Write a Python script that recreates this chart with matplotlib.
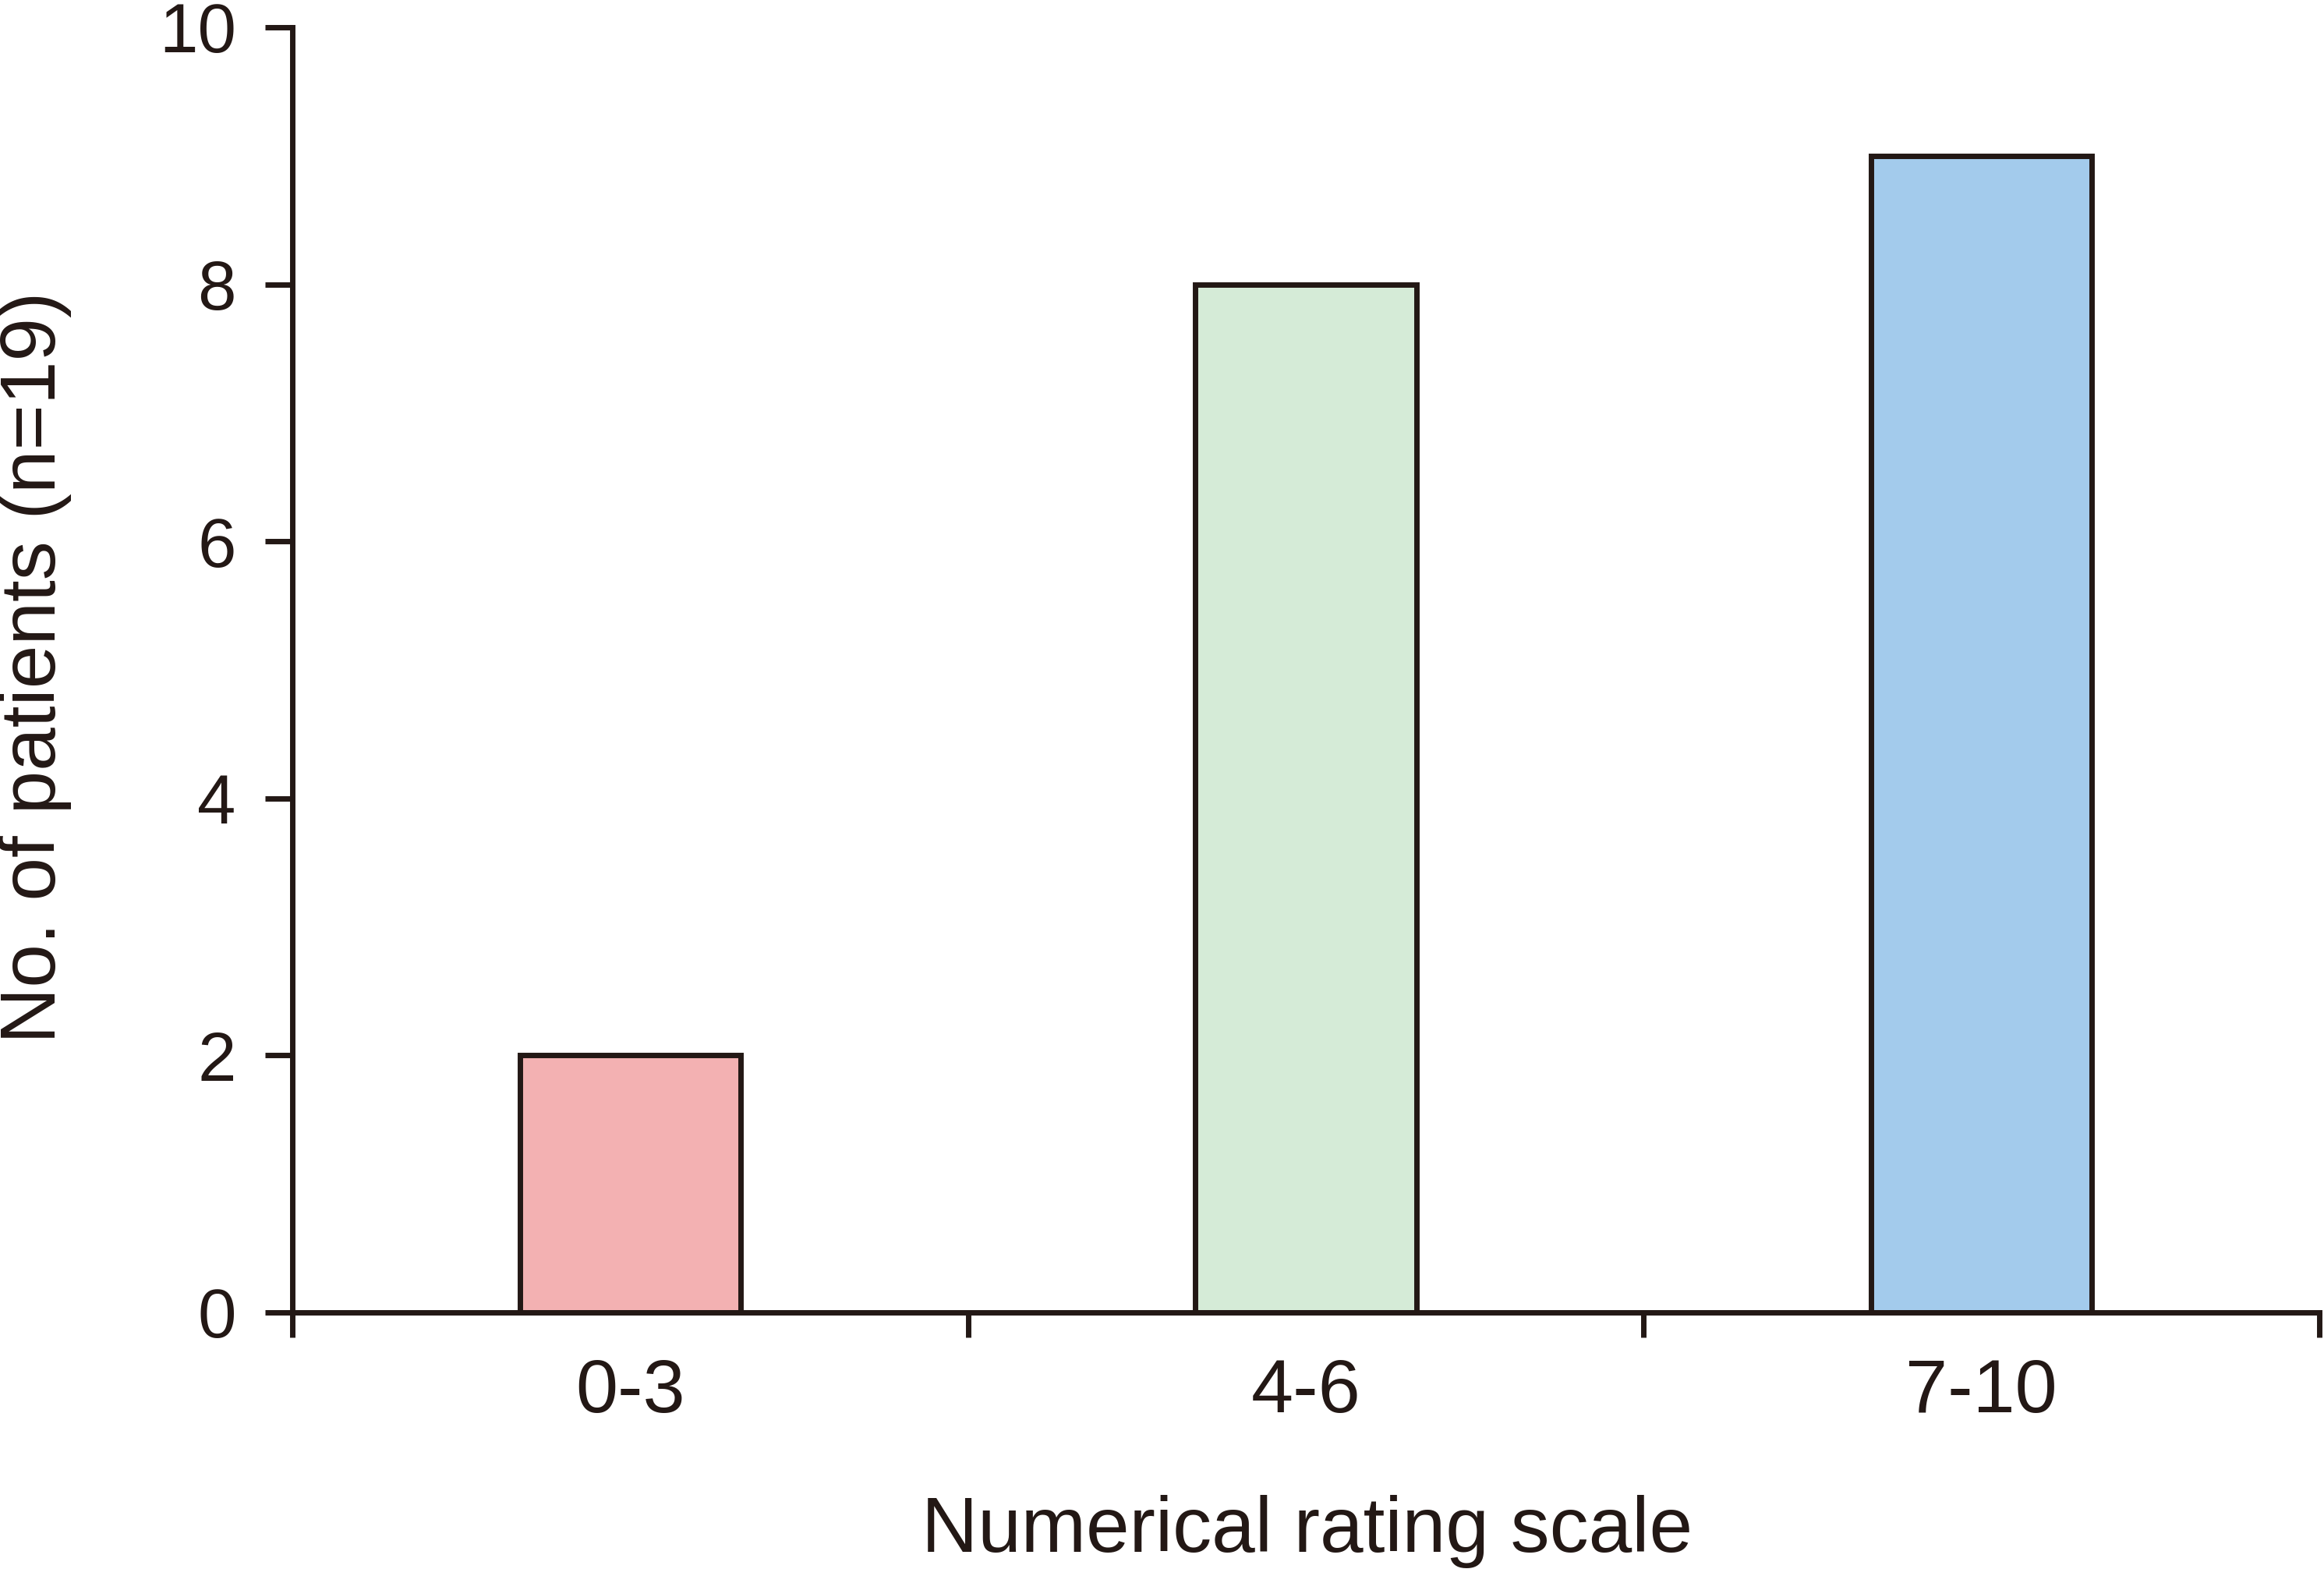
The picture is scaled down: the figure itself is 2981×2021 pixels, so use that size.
import matplotlib
matplotlib.use("Agg")
import matplotlib.pyplot as plt

categories = ["0-3", "4-6", "7-10"]
counts = [2, 8, 9]
bar_colors = ["#F3B1B2", "#D5EBD7", "#A3CBEC"]
yticks = [0, 2, 4, 6, 8, 10]
xlabel = "Numerical rating scale"
ylabel = "No. of patients (n=19)"

ink = "#231815"
plt.rcParams['font.family'] = ['Liberation Sans', 'DejaVu Sans']

W, H = 2981, 2021
fig = plt.figure(figsize=(W / 100, H / 100), dpi=100)
ax = fig.add_axes([375 / W, 1 - 1683 / H, 2600 / W, (1683 - 35) / H])

pos = [i + 0.5 for i in range(len(categories))]
ax.bar(pos, counts, width=0.327, color=bar_colors, edgecolor=ink, linewidth=5, zorder=3)

ax.set_xlim(0, len(categories))
ax.set_ylim(0, 10)
ax.set_yticks(yticks)
ax.set_yticklabels([str(v) for v in yticks])
ax.set_xticks(range(len(categories) + 1))
ax.set_xticklabels([])
ax.set_xticks(pos, minor=True)
ax.set_xticklabels(categories, minor=True)

for s in ["top", "right"]:
    ax.spines[s].set_visible(False)
for s in ["left", "bottom"]:
    ax.spines[s].set_linewidth(5)
    ax.spines[s].set_color(ink)
    ax.spines[s].set_zorder(4)

ax.tick_params(axis="y", which="major", direction="out", length=25, width=5,
               color=ink, labelcolor=ink, labelsize=64, pad=27)
ax.tick_params(axis="x", which="major", direction="out", length=23, width=5,
               color=ink)
ax.tick_params(axis="x", which="minor", length=0, labelcolor=ink,
               labelsize=70, pad=42)

fig.text(1677 / W, 1 - 1964 / H, xlabel, ha="center", va="center",
         fontsize=72, color=ink)
fig.text(45 / W, 1 - 856 / H, ylabel, ha="center", va="center",
         rotation=90, fontsize=72, color=ink)

fig.savefig("out.png", dpi=100, facecolor="white")
